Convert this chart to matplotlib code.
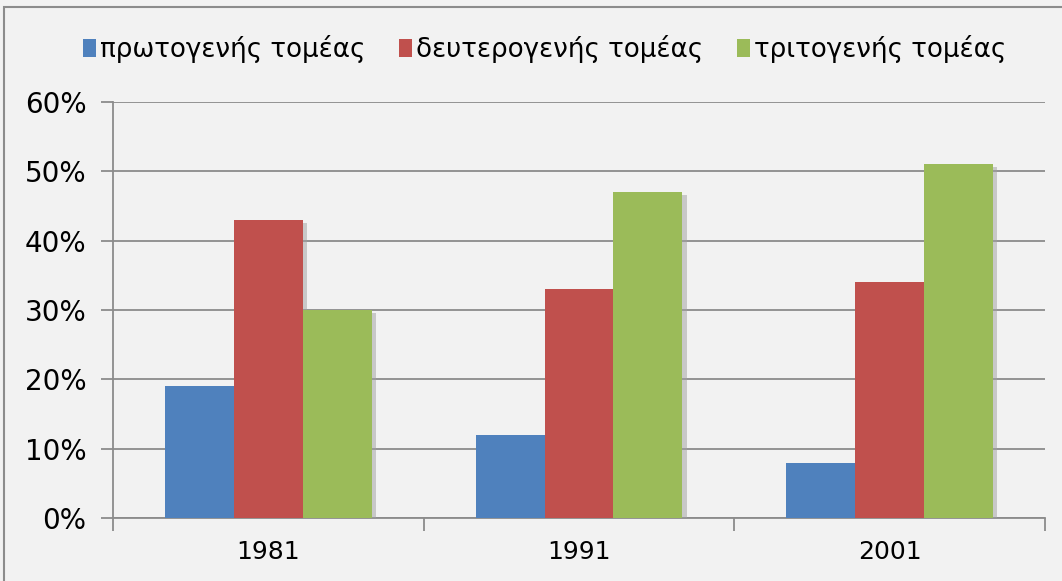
import matplotlib.pyplot as plt
import matplotlib.patheffects as pe
from matplotlib.patches import Rectangle
from matplotlib.ticker import FuncFormatter, FixedLocator
import numpy as np

# data
years = ['1981', '1991', '2001']
series_names = ['πρωτογενής τομέας', 'δευτερογενής τομέας', 'τριτογενής τομέας']
primary = [19, 12, 8]
secondary = [43, 33, 34]
tertiary = [30, 47, 51]
colors = ['#4F81BD', '#C0504D', '#9BBB59']

BG = '#F2F2F2'
GRID = '#8C8C8C'

fig = plt.figure(figsize=(10.62, 5.81), dpi=100, facecolor=BG)
ax = fig.add_axes([0.1064, 0.1084, 0.8776, 0.716])
ax.set_facecolor(BG)

x = np.arange(len(years))
width = 0.222
bars = []
for i, (vals, name, col) in enumerate(zip([primary, secondary, tertiary], series_names, colors)):
    bars.append(ax.bar(x + (i - 1) * width, vals, width, color=col, label=name, zorder=3))

ax.set_xlim(-0.5, 2.5)
ax.set_ylim(0, 60)
ax.set_yticks(range(0, 61, 10))
ax.yaxis.set_major_formatter(FuncFormatter(lambda v, p: f'{int(v)}%'))
ax.yaxis.grid(True, color=GRID, lw=1.3, zorder=0)

ax.set_xticks(x)
ax.set_xticklabels(years)
ax.xaxis.set_minor_locator(FixedLocator([-0.5, 0.5, 1.5, 2.5]))
ax.tick_params(axis='x', which='major', length=0, pad=16, labelsize=18)
ax.tick_params(axis='x', which='minor', length=9, color=GRID, width=1.3)
ax.tick_params(axis='y', length=9, color=GRID, width=1.3, labelsize=20, pad=10)

for s in ['top', 'right']:
    ax.spines[s].set_visible(False)
for s in ['left', 'bottom']:
    ax.spines[s].set_color(GRID)
    ax.spines[s].set_linewidth(1.3)

leg = fig.legend(loc='center', bbox_to_anchor=(0.513, 0.915), ncol=3, frameon=False,
                 prop={'family': 'DejaVu Sans', 'size': 18.8},
                 handlelength=0.5, handleheight=0.65, handletextpad=0.15, columnspacing=1.3)

# soft shadow on the bars only (not the legend keys)
shadow = [pe.SimplePatchShadow(offset=(3, -2), shadow_rgbFace='#a0a0a0', alpha=0.5), pe.Normal()]
for bc in bars:
    for p in bc:
        p.set_path_effects(shadow)

# outer chart frame
fig.patches.append(Rectangle((0.004, -0.05), 1.2, 1 - 0.012 + 0.05, transform=fig.transFigure,
                             fill=False, edgecolor='#8C8C8C', lw=1.5, zorder=-1))

fig.savefig('out.png', dpi=100, facecolor=BG)
